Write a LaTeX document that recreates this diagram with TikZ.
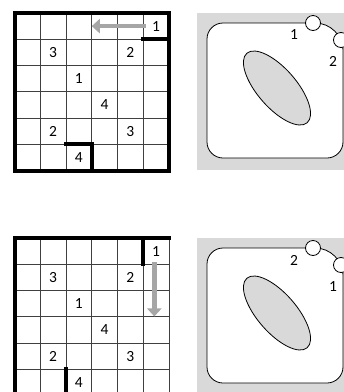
\documentclass[tikz,border=0pt]{standalone}
\usepackage{fontspec}
\setmainfont{Carlito}
\usetikzlibrary{arrows.meta,shapes.geometric}

\definecolor{panelgray}{HTML}{D9D9D9}
\definecolor{arrowgray}{HTML}{A6A6A6}

\tikzset{
  gridline/.style={line width=0.8pt, black!75},
  wall/.style={line width=4pt, line cap=rect},
  digit/.style={font=\fontsize{15.5}{18}\selectfont, inner sep=0pt},
  move/.style={arrowgray, line width=4.5pt, -{Triangle[width=14pt,length=8pt]}},
  hole/.style={circle, draw, fill=white, inner sep=0pt, minimum size=15pt, line width=0.8pt},
  blob/.style={ellipse, draw, fill=panelgray, minimum width=92pt, minimum height=39pt, inner sep=0pt, line width=0.8pt},
  outline/.style={draw, fill=white, line width=0.8pt},
}

\begin{document}
\begin{tikzpicture}[x=1pt, y=-1pt]
    \useasboundingbox (0,0) rectangle (344,392);

    % Grid, first move
    \begin{scope}[xshift=14.5pt, yshift=-13pt, x=25.75pt, y=-26.25pt]
        \foreach \i in {1,...,5} {
            \draw[gridline] (\i,0) -- (\i,6);
            \draw[gridline] (0,\i) -- (6,\i);
        }
        \draw[wall] (0,0) rectangle (6,6);
        \draw[wall] (5,1) -- (6,1);
        \draw[wall] (2,5) -- (3,5) -- (3,6);

        \node[digit] (ta1) at (5.5,0.5) {1};
        \node[digit] (ta3) at (1.5,1.5) {3};
        \node[digit] (ta2) at (4.5,1.5) {2};
        \node[digit] (tb1) at (2.5,2.5) {1};
        \node[digit] (ta4) at (3.5,3.5) {4};
        \node[digit] (tb2) at (1.5,4.5) {2};
        \node[digit] (tb3) at (4.5,4.5) {3};
        \node[digit] (tb4) at (2.5,5.5) {4};

        % Slide to the left
        \coordinate (tfrom) at (5.1,0.5);
        \coordinate (tto) at (3.0,0.5);
        \draw[move] (tfrom) -- (tto);
    \end{scope}

    % Grid, second move
    \begin{scope}[xshift=14.5pt, yshift=-238pt, x=25.75pt, y=-26.25pt]
        \foreach \i in {1,...,5} {
            \draw[gridline] (\i,0) -- (\i,6);
            \draw[gridline] (0,\i) -- (6,\i);
        }
        \draw[gridline] (6,0) -- (6,6);
        \draw[wall] (0,6) -- (0,0) -- (6,0);
        \draw[wall] (0,6) -- (6,6);
        \draw[wall] (5,0) -- (5,1);
        \draw[wall] (2,5) -- (2,6);

        \node[digit] (ba1) at (5.5,0.5) {1};
        \node[digit] (ba3) at (1.5,1.5) {3};
        \node[digit] (ba2) at (4.5,1.5) {2};
        \node[digit] (bb1) at (2.5,2.5) {1};
        \node[digit] (ba4) at (3.5,3.5) {4};
        \node[digit] (bb2) at (1.5,4.5) {2};
        \node[digit] (bb3) at (4.5,4.5) {3};
        \node[digit] (bb4) at (2.5,5.5) {4};

        % Slide down
        \coordinate (bfrom) at (5.43,0.92);
        \coordinate (bto) at (5.43,2.99);
        \draw[move] (bfrom) -- (bto);
    \end{scope}

    % Board, first move
    \fill[panelgray] (197,13) rectangle (350,170);
    \draw[outline] (315,23) -- (223,23) .. controls (214.2,23) and (207,30.2) .. (207,39)
        -- (207,142) .. controls (207,150.8) and (214.2,158) .. (223,158)
        -- (327,158) .. controls (335.8,158) and (343,150.8) .. (343,142)
        -- (343,51) .. controls (343,35.5) and (330.5,23) .. (315,23) -- cycle;
    \node[blob, rotate=-49] (tspot) at (277,88) {};
    \node[hole] (thole1) at (313,23) {};
    \node[hole] (thole2) at (341,40) {};
    \node[digit] (tlab1) at (294,35) {1};
    \node[digit] (tlab2) at (333,61.5) {2};

    % Board, second move
    \begin{scope}[yshift=-225pt]
        \fill[panelgray] (197,13) rectangle (350,170);
        \draw[outline] (315,23) -- (223,23) .. controls (214.2,23) and (207,30.2) .. (207,39)
            -- (207,142) .. controls (207,150.8) and (214.2,158) .. (223,158)
            -- (327,158) .. controls (335.8,158) and (343,150.8) .. (343,142)
            -- (343,51) .. controls (343,35.5) and (330.5,23) .. (315,23) -- cycle;
        \node[blob, rotate=-49] (bspot) at (277,88) {};
        \node[hole] (bhole1) at (313,23) {};
        \node[hole] (bhole2) at (341,40) {};
        \node[digit] (blab2) at (294,35) {2};
        \node[digit] (blab1) at (333,61.5) {1};
    \end{scope}
\end{tikzpicture}
\end{document}
